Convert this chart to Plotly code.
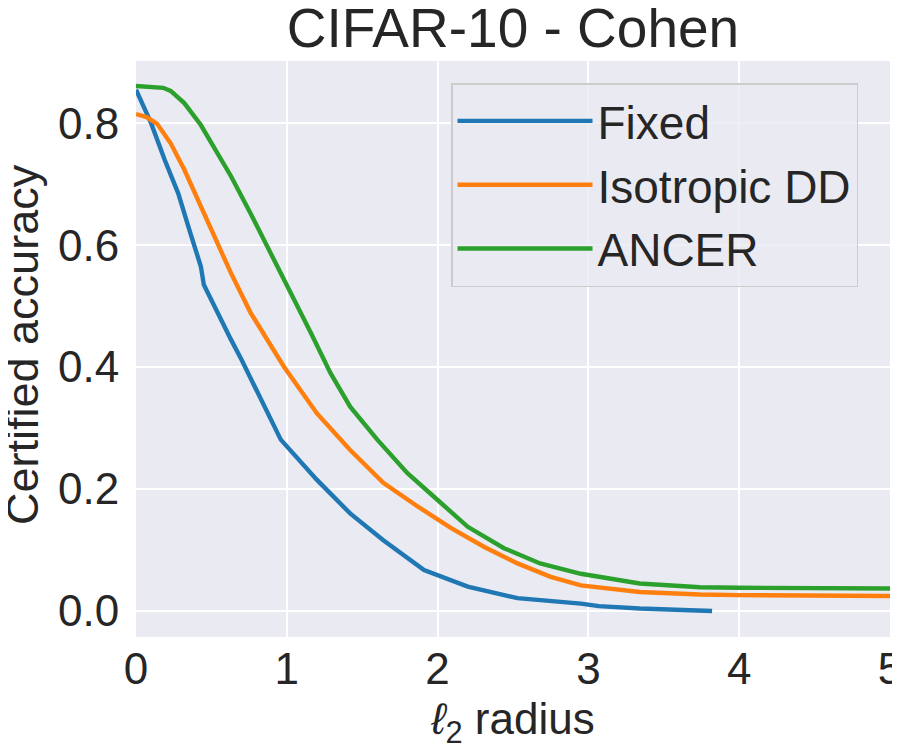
import plotly.graph_objects as go

# ---- data ----
fixed_x = [0.0, 0.10, 0.19, 0.28, 0.36, 0.43, 0.45, 0.54, 0.63, 0.70, 0.76, 0.96, 1.20, 1.42,
           1.64, 1.91, 2.20, 2.53, 2.95, 3.07, 3.34, 3.74, 3.82]
fixed_y = [0.855, 0.800, 0.740, 0.685, 0.620, 0.565, 0.535, 0.488, 0.445, 0.412, 0.382, 0.281,
           0.215, 0.160, 0.116, 0.067, 0.040, 0.021, 0.012, 0.008, 0.004, 0.001, 0.0]

iso_x = [0.0, 0.07, 0.14, 0.23, 0.32, 0.41, 0.52, 0.63, 0.76, 0.88, 0.98, 1.20, 1.42, 1.64, 1.87,
         2.09, 2.31, 2.53, 2.75, 2.95, 3.06, 3.34, 3.74, 4.0, 5.0]
iso_y = [0.815, 0.810, 0.799, 0.767, 0.724, 0.674, 0.614, 0.554, 0.489, 0.440, 0.401, 0.324,
         0.264, 0.210, 0.171, 0.136, 0.105, 0.078, 0.056, 0.042, 0.039, 0.031, 0.027, 0.026,
         0.0246]

ancer_x = [0.0, 0.10, 0.18, 0.23, 0.27, 0.32, 0.43, 0.63, 0.76, 0.94, 1.05, 1.16, 1.29, 1.42,
           1.60, 1.80, 2.00, 2.20, 2.44, 2.68, 2.95, 3.06, 3.34, 3.74, 4.0, 5.0]
ancer_y = [0.861, 0.860, 0.858, 0.853, 0.845, 0.833, 0.797, 0.713, 0.652, 0.565, 0.510, 0.456,
           0.390, 0.335, 0.281, 0.226, 0.182, 0.138, 0.103, 0.078, 0.061, 0.056, 0.045, 0.039,
           0.038, 0.0368]

series_names = ["Fixed", "Isotropic DD", "ANCER"]
series_colors = ["#1f77b4", "#ff7f0e", "#2ca02c"]

x_ticks = [0, 1, 2, 3, 4, 5]
y_ticks = [0.0, 0.2, 0.4, 0.6, 0.8]

FONT = "Liberation Sans, Arial, sans-serif"
TXT = "#262626"

# the page body adds an 8px offset; figure is sized to fill the 900x750 window
W, H = 892, 742
ML, MT, PW, PH = 128, 53, 754, 576

fig = go.Figure()
for name, xs, ys, col in zip(series_names, [fixed_x, iso_x, ancer_x],
                             [fixed_y, iso_y, ancer_y], series_colors):
    fig.add_trace(go.Scatter(x=xs, y=ys, mode="lines", name=name, legendgroup=name,
                             line=dict(color=col, width=4.4)))

fig.update_layout(
    width=W, height=H,
    margin=dict(l=ML, r=W - ML - PW, t=MT, b=H - MT - PH, autoexpand=False),
    paper_bgcolor="white",
    plot_bgcolor="#EAEAF2",
    font=dict(family=FONT, color=TXT, size=44),
    title=dict(text="CIFAR-10 - Cohen", x=(ML + PW / 2) / W, xanchor="center",
               y=1 - 20 / H, yanchor="middle", font=dict(size=55, color=TXT, family=FONT)),
    xaxis=dict(range=[0, 5], tickvals=x_ticks, ticktext=[str(v) for v in x_ticks],
               showgrid=True, gridcolor="white", gridwidth=1.6, zeroline=False,
               showline=False, ticks="", ticklabelstandoff=2, automargin=False,
               ticklabeloverflow="allow",
               tickfont=dict(size=44, color=TXT),
               title=dict(text="<i>ℓ</i><sub>2</sub> radius", font=dict(size=44, color=TXT),
                          standoff=14)),
    yaxis=dict(range=[-0.0427, 0.902], tickvals=y_ticks,
               ticktext=[f"{v:.1f}" for v in y_ticks], automargin=False,
               showgrid=True, gridcolor="white", gridwidth=1.6, zeroline=False,
               showline=False, ticks="outside", ticklen=7, tickcolor="rgba(0,0,0,0)",
               ticklabeloverflow="allow",
               tickfont=dict(size=44, color=TXT)),
    annotations=[dict(text="Certified accuracy", xref="paper", yref="paper",
                      x=(15 - ML) / PW, y=0.507, xanchor="center", yanchor="middle",
                      textangle=-90, showarrow=False,
                      font=dict(size=45, color=TXT, family=FONT))],
    legend=dict(x=(443 - ML) / PW, y=(MT + PH - 75) / PH, xanchor="left", yanchor="top",
                bgcolor="rgba(234,234,242,0.8)", bordercolor="#cccccc", borderwidth=1.5,
                font=dict(size=46, color=TXT), tracegroupgap=1, itemwidth=135),
    showlegend=True,
)

fig.write_html("out.html")
